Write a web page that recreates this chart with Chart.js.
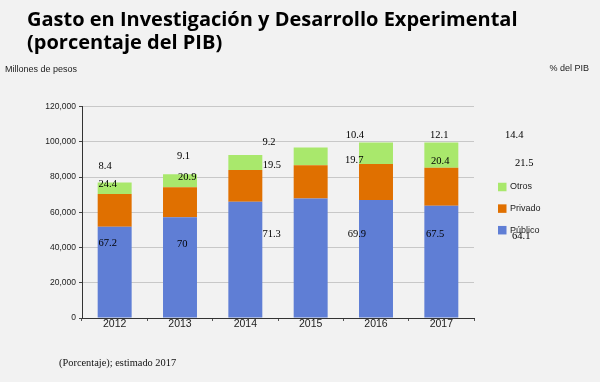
<!DOCTYPE html>
<html>
<head>
<meta charset="utf-8">
<script src="https://cdn.jsdelivr.net/npm/chart.js@4.4.1/dist/chart.umd.min.js"></script>
<style>
  html, body { margin: 0; padding: 0; background: #f2f2f2; }
  #wrap { width: 600px; height: 382px; }
</style>
</head>
<body>
<div id="wrap"><canvas id="c" width="600" height="382"></canvas></div>
<script>
// ---- Data ----
const years = ['2012', '2013', '2014', '2015', '2016', '2017'];
const publico = [51800, 57200, 66000, 67900, 67000, 63700];
const privado = [18600, 17000, 18000, 18900, 20400, 21600];
const otros   = [6600, 7400, 8500, 10000, 12300, 14400];
const pctOtros   = [8.4, 9.1, 9.2, 10.4, 12.1, 14.4];
const pctPrivado = [24.4, 20.9, 19.5, 19.7, 20.4, 21.5];
const pctPublico = [67.2, 70, 71.3, 69.9, 67.5, 64.1];
const yTicks = [0, 20000, 40000, 60000, 80000, 100000, 120000];

const titleLines = ['Gasto en Investigación y Desarrollo Experimental', '(porcentaje del PIB)'];
const leftUnit = 'Millones de pesos';
const rightUnit = '% del PIB';
const footnote = '(Porcentaje); estimado 2017';

// ---- Layout of the (displaced) percentage annotations, in axis units: [category index, value] ----
const pctAnchors = [
  [[-0.247, 86400], [-0.247, 75800], [-0.247, 42500]],
  [[0.954, 92000], [0.97, 79700], [0.954, 42000]],
  [[2.261, 99800], [2.265, 86800], [2.261, 47800]],
  [[3.536, 103800], [3.526, 89800], [3.567, 47800]],
  [[4.827, 103800], [4.842, 89200], [4.765, 47400]],
  [[5.975, 103900], [6.128, 87900], [6.083, 46300]]
];

const COL_PUB = '#5f7ed5';
const COL_PRI = '#e07000';
const COL_OTR = '#a9e86c';

const bgPlugin = {
  id: 'bg',
  beforeDraw(chart) {
    const ctx = chart.ctx;
    ctx.save();
    ctx.fillStyle = '#f2f2f2';
    ctx.fillRect(0, 0, chart.width, chart.height);
    ctx.restore();
  }
};

const extrasPlugin = {
  id: 'extras',
  afterDraw(chart) {
    const ctx = chart.ctx;
    const xs = chart.scales.x, ys = chart.scales.y;
    ctx.save();
    // unit labels
    ctx.fillStyle = '#222';
    ctx.font = '9px "Liberation Sans", Arial, sans-serif';
    ctx.textBaseline = 'middle';
    ctx.textAlign = 'left';
    ctx.fillText(leftUnit, 5, 70);
    ctx.textAlign = 'right';
    ctx.fillText(rightUnit, 589, 69);

    // percentage annotations
    ctx.fillStyle = '#000';
    ctx.font = '10.5px "Liberation Serif", "Times New Roman", serif';
    ctx.textAlign = 'left';
    ctx.textBaseline = 'middle';
    for (let g = 0; g < years.length; g++) {
      const vals = [pctOtros[g], pctPrivado[g], pctPublico[g]];
      for (let k = 0; k < 3; k++) {
        const a = pctAnchors[g][k];
        ctx.fillText(String(vals[k]), xs.getPixelForValue(a[0]), ys.getPixelForValue(a[1]));
      }
    }

    // legend (reverse order)
    const ds = chart.data.datasets.slice().reverse();
    ctx.font = '9px "Liberation Sans", Arial, sans-serif';
    ds.forEach((d, i) => {
      const cy = 187 + i * 21.6;
      ctx.fillStyle = d.backgroundColor;
      ctx.fillRect(498, cy - 4.25, 8.5, 8.5);
      ctx.fillStyle = '#222';
      ctx.fillText(d.label, 510, cy);
    });

    // footnote
    ctx.fillStyle = '#111';
    ctx.font = '10.4px "Liberation Serif", "Times New Roman", serif';
    ctx.fillText(footnote, 59, 363);
    ctx.restore();
  }
};

new Chart(document.getElementById('c'), {
  type: 'bar',
  data: {
    labels: years,
    datasets: [
      { label: 'Público', data: publico, backgroundColor: COL_PUB },
      { label: 'Privado', data: privado, backgroundColor: COL_PRI },
      { label: 'Otros', data: otros, backgroundColor: COL_OTR }
    ]
  },
  options: {
    responsive: false,
    animation: false,
    devicePixelRatio: 1,
    layout: { padding: { left: 27, right: 0, top: 0, bottom: 0 } },
    datasets: { bar: { barPercentage: 0.52, categoryPercentage: 1.0, borderWidth: 0 } },
    plugins: {
      legend: { display: false },
      tooltip: { enabled: false },
      title: {
        display: true,
        text: titleLines,
        align: 'start',
        color: '#000',
        font: { family: '"Open Sans", "Liberation Sans", Arial, sans-serif', size: 20, weight: 'bold', lineHeight: 1.165 },
        padding: { top: 8.75, bottom: 51.35 }
      }
    },
    scales: {
      x: {
        stacked: true,
        afterFit(scale) { scale.height = 64; },
        border: { display: true, color: '#333', width: 1 },
        grid: { display: true, drawOnChartArea: false, drawTicks: true, tickLength: 3, offset: true, tickColor: '#555' },
        ticks: { color: '#222', padding: -3, font: { family: '"Liberation Sans", Arial, sans-serif', size: 10.5 } }
      },
      y: {
        stacked: true,
        min: 0,
        max: 120000,
        afterFit(scale) { scale.width = 55; },
        afterBuildTicks(scale) { scale.ticks = yTicks.map(v => ({ value: v })); },
        border: { display: true, color: '#333', width: 1 },
        grid: { color: '#c8c8c8', lineWidth: 1, drawTicks: true, tickLength: 3, tickColor: '#444' },
        ticks: {
          color: '#222',
          padding: 3,
          font: { family: '"Liberation Sans", Arial, sans-serif', size: 8.5 },
          callback: (v) => v.toLocaleString('en-US')
        }
      },
      yRight: {
        position: 'right',
        min: 0,
        max: 1,
        afterFit(scale) { scale.width = 126; },
        border: { display: false },
        grid: { display: false, drawTicks: false },
        ticks: { display: false }
      }
    }
  },
  plugins: [bgPlugin, extrasPlugin]
});
</script>
</body>
</html>
